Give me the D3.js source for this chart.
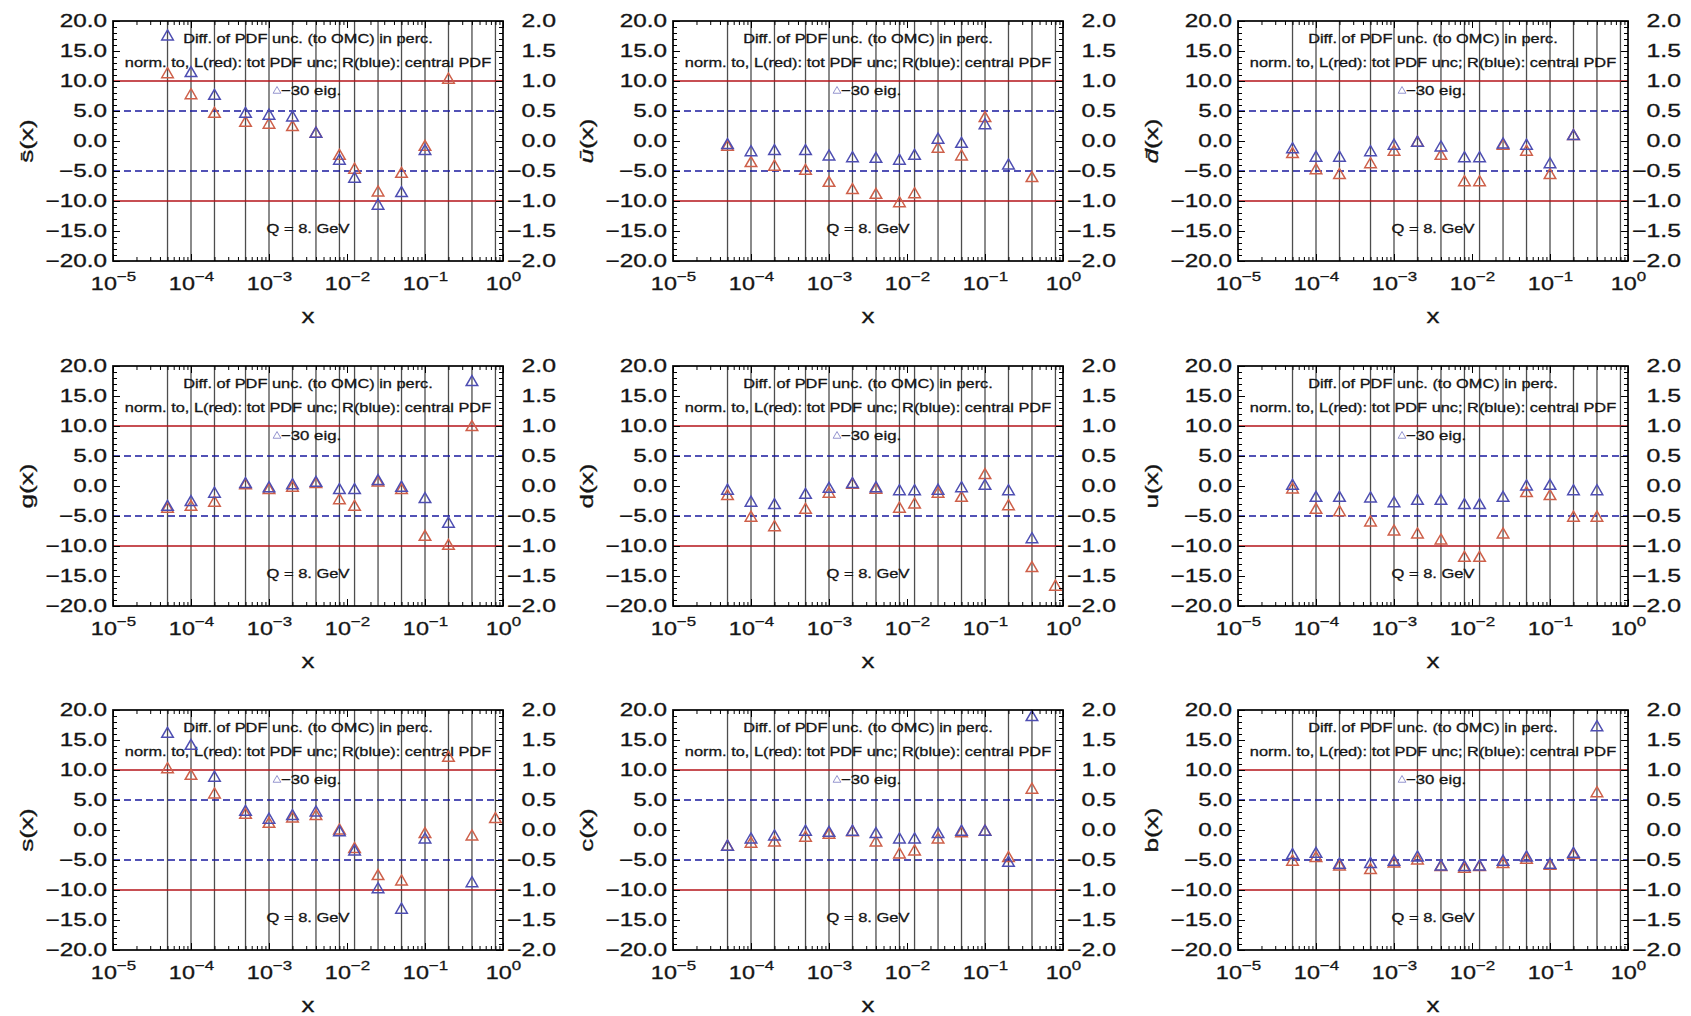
<!DOCTYPE html>
<html><head><meta charset="utf-8">
<script src="https://cdn.jsdelivr.net/npm/d3@7"></script>
<style>
body{margin:0;background:#fff}
svg{display:block}
text{font-family:"Liberation Sans",Arial,sans-serif;fill:#151515;stroke:#151515;stroke-width:0.3px}
</style>
</head><body>
<svg id="c" width="1691" height="1016"></svg>
<script>
// ---------- data ----------
const xValues = [5e-5, 1e-4, 2e-4, 5e-4, 1e-3, 2e-3, 4e-3, 8e-3, 0.0125, 0.025, 0.05, 0.1, 0.2, 0.4, 0.8];

const panelNames = ["sbar", "ubar", "dbar", "g", "d", "u", "s", "c", "b"];

// red: left axis (per cent, tot PDF unc); blue: right axis (central PDF)
const redSbar  = [11.1, 7.6, 4.5, 3.0, 2.7, 2.3, 1.2, -2.5, -4.8, -8.6, -5.5, -1.0, 10.2, null, null];
const blueSbar = [1.74, 1.13, 0.75, 0.45, 0.42, 0.39, 0.12, -0.33, -0.63, -1.08, -0.87, -0.17, null, null, null];

const redUbar  = [-1.0, -3.7, -4.3, -5.0, -7.0, -8.2, -9.0, -10.4, -8.9, -1.3, -2.6, 3.8, null, -6.2, null];
const blueUbar = [-0.07, -0.19, -0.17, -0.17, -0.26, -0.29, -0.30, -0.33, -0.25, 0.02, -0.05, 0.26, -0.41, null, null];

const redDbar  = [-2.2, -4.9, -5.7, -3.9, -1.8, -0.3, -2.5, -6.9, -6.9, -0.8, -1.8, -5.7, 0.8, null, null];
const blueDbar = [-0.14, -0.28, -0.28, -0.19, -0.08, -0.03, -0.11, -0.29, -0.29, -0.06, -0.08, -0.39, 0.08, null, null];

const redG  = [-3.8, -3.5, -2.8, 0.1, -0.7, -0.3, 0.3, -2.4, -3.5, 0.55, -0.7, -8.5, -10.0, 9.8, null];
const blueG = [-0.35, -0.27, -0.13, 0.03, -0.04, 0.01, 0.05, -0.07, -0.07, 0.08, -0.03, -0.22, -0.63, 1.73, null];

const redD  = [-1.7, -5.3, -6.9, -4.0, -1.3, 0.2, -0.65, -3.8, -3.1, -1.3, -2.0, 1.8, -3.4, -13.7, -16.8];
const blueD = [-0.08, -0.28, -0.32, -0.15, -0.05, 0.03, -0.04, -0.09, -0.09, -0.08, -0.04, 0.0, -0.09, -0.89, null];

const redU  = [-0.6, -4.0, -4.4, -6.1, -7.6, -8.1, -9.1, -12.0, -12.0, -8.1, -1.2, -1.7, -5.3, -5.3, null];
const blueU = [0.0, -0.20, -0.20, -0.21, -0.29, -0.25, -0.25, -0.32, -0.32, -0.20, -0.01, 0.0, -0.09, -0.09, null];

const redS  = [10.1, 9.0, 5.9, 2.5, 1.0, 1.9, 2.3, -0.1, -3.2, -7.7, -8.6, -0.7, 12.0, -1.1, 1.8];
const blueS = [1.60, 1.40, 0.87, 0.30, 0.17, 0.23, 0.29, -0.04, -0.36, -0.99, -1.33, -0.16, null, -0.89, null];

const redC  = [-2.8, -2.3, -2.1, -1.3, -0.8, -0.4, -2.1, -4.1, -3.6, -1.6, -0.55, -0.3, -4.7, 6.7, null];
const blueC = [-0.28, -0.16, -0.11, -0.03, -0.05, -0.03, -0.07, -0.16, -0.16, -0.07, -0.03, -0.03, -0.55, 1.88, null];

const redB  = [-5.3, -4.7, -6.1, -6.7, -5.6, -5.1, -6.2, -6.5, -6.2, -5.7, -5.0, -6.0, -4.2, 6.1, null];
const blueB = [-0.42, -0.40, -0.58, -0.57, -0.53, -0.46, -0.61, -0.62, -0.61, -0.53, -0.46, -0.58, -0.40, 1.71, null];

const redSeries  = [redSbar, redUbar, redDbar, redG, redD, redU, redS, redC, redB];
const blueSeries = [blueSbar, blueUbar, blueDbar, blueG, blueD, blueU, blueS, blueC, blueB];

// y-axis titles: [letter, italic?, barred?]
const yTitles = [["s", false, true], ["u", true, true], ["d", true, true],
                 ["g", false, false], ["d", false, false], ["u", false, false],
                 ["s", false, false], ["c", false, false], ["b", false, false]];

const leftTicks  = [20, 15, 10, 5, 0, -5, -10, -15, -20];
const rightTicks = [2, 1.5, 1, 0.5, 0, -0.5, -1, -1.5, -2];
const xTickExponents = [-5, -4, -3, -2, -1, 0];
const legendLine1 = "Diff. of PDF unc. (to OMC) in perc.";
const legendLine2 = "norm. to, L(red): tot PDF unc; R(blue): central PDF";
const legendEntry = "\u221230 eig.";
const scaleNote = "Q = 8. GeV";
const redRefLines = [10, -10];
const blueRefLines = [5, -5];
const xTitle = "x";

// ---------- layout ----------
const colLeft = [113, 673, 1238];
const rowTop = [21, 366, 710];
const W = 390, H = 240;

const fmtMinus = s => s.replace("-", "\u2212");

const svg = d3.select("#c");

const decades = xTickExponents.map(e => Math.pow(10, e));
const minorX = [];
xTickExponents.slice(0, -1).forEach(e => { for (let m = 2; m <= 9; m++) minorX.push(m * Math.pow(10, e)); });
const minorL = d3.range(-20, 21, 1).filter(v => v % 5 !== 0);
const minorR = d3.range(-20, 21, 1).filter(v => v % 5 !== 0).map(v => v / 10);

const triSym = d3.symbol().type(d3.symbolTriangle).size(58);
const legSym = d3.symbol().type(d3.symbolTriangle).size(26);

panelNames.forEach((name, i) => {
  const col = i % 3, row = Math.floor(i / 3);
  const g = svg.append("g").attr("transform", `translate(${colLeft[col]},${rowTop[row]})`);

  const x = d3.scaleLog().domain([1e-5, 1]).range([0, W]);
  const yL = d3.scaleLinear().domain([-20, 20]).range([H, 0]);
  const yR = d3.scaleLinear().domain([-2, 2]).range([H, 0]);

  // vertical grid lines at sample x
  g.append("g").selectAll("line").data(xValues).join("line")
    .attr("x1", d => x(d)).attr("x2", d => x(d))
    .attr("y1", 0).attr("y2", H)
    .attr("stroke", "#4d4d4d").attr("stroke-width", 1.3);

  // reference lines
  g.append("g").selectAll("line").data(redRefLines).join("line")
    .attr("x1", 0).attr("x2", W).attr("y1", d => yL(d)).attr("y2", d => yL(d))
    .attr("stroke", "#b5141a").attr("stroke-width", 1.7);
  g.append("g").selectAll("line").data(blueRefLines).join("line")
    .attr("x1", 0).attr("x2", W).attr("y1", d => yL(d)).attr("y2", d => yL(d))
    .attr("stroke", "#1a1a9e").attr("stroke-width", 1.7).attr("stroke-dasharray", "7,4");

  // legend texts
  const cx = W / 2;
  g.append("text").attr("transform", `translate(${cx},22) scale(1.26,1)`)
    .attr("text-anchor", "middle").attr("font-size", 13).text(legendLine1);
  g.append("text").attr("transform", `translate(${cx},46) scale(1.26,1)`)
    .attr("text-anchor", "middle").attr("font-size", 13).text(legendLine2);
  g.append("path").attr("d", legSym).attr("transform", `translate(${cx - 31},70)`)
    .attr("fill", "none").attr("stroke", "#9494cf").attr("stroke-width", 1);
  g.append("text").attr("transform", `translate(${cx - 27},74) scale(1.29,1)`)
    .attr("text-anchor", "start").attr("font-size", 13).text(legendEntry);
  g.append("text").attr("transform", `translate(${cx},212) scale(1.27,1)`)
    .attr("text-anchor", "middle").attr("font-size", 13).text(scaleNote);

  // markers
  const red = redSeries[i], blue = blueSeries[i];
  g.append("g").selectAll("path")
    .data(xValues.map((xv, j) => [xv, red[j]]).filter(d => d[1] !== null))
    .join("path").attr("d", triSym)
    .attr("transform", d => `translate(${x(d[0])},${yL(d[1])})`)
    .attr("fill", "none").attr("stroke", "rgb(206,96,74)").attr("stroke-width", 1.5);
  g.append("g").selectAll("path")
    .data(xValues.map((xv, j) => [xv, blue[j]]).filter(d => d[1] !== null))
    .join("path").attr("d", triSym)
    .attr("transform", d => `translate(${x(d[0])},${yR(d[1])})`)
    .attr("fill", "none").attr("stroke", "rgb(78,78,178)").attr("stroke-width", 1.5);

  // axes (ticks inward)
  const styleAxis = sel => { sel.select(".domain").remove(); sel.selectAll(".tick line").attr("stroke", "#000"); };

  // bottom
  const bx = g.append("g").attr("transform", `translate(0,${H})`)
    .call(d3.axisBottom(x).tickValues(decades).tickSize(-7).tickFormat(() => ""));
  styleAxis(bx);
  bx.selectAll(".tick text").each(function(d) {
    const t = d3.select(this);
    const e = Math.round(Math.log10(d));
    t.attr("y", null).attr("dy", null).attr("fill", "#151515")
      .attr("transform", "translate(0,29) scale(1.3,1)").attr("font-size", 18)
      .attr("font-family", "Liberation Sans, Arial, sans-serif");
    t.text("");
    t.append("tspan").text("10");
    t.append("tspan").attr("font-size", 13).attr("dy", -9).text(fmtMinus(String(e)));
  });
  styleAxis(g.append("g").attr("transform", `translate(0,${H})`)
    .call(d3.axisBottom(x).tickValues(minorX).tickSize(-4).tickFormat(() => "")));
  // top
  styleAxis(g.append("g").call(d3.axisTop(x).tickValues(decades).tickSize(-7).tickFormat(() => "")));
  styleAxis(g.append("g").call(d3.axisTop(x).tickValues(minorX).tickSize(-4).tickFormat(() => "")));

  // left
  const ly = g.append("g").call(d3.axisLeft(yL).tickValues(leftTicks).tickSize(-7)
    .tickFormat(d => fmtMinus(d3.format(".1f")(d))));
  styleAxis(ly);
  ly.selectAll(".tick text").attr("x", null).attr("fill", "#151515").attr("font-size", 18)
    .attr("font-family", "Liberation Sans, Arial, sans-serif")
    .attr("transform", "translate(-6,0) scale(1.35,1)");
  styleAxis(g.append("g").call(d3.axisLeft(yL).tickValues(minorL).tickSize(-4).tickFormat(() => "")));

  // right
  const ry = g.append("g").attr("transform", `translate(${W},0)`)
    .call(d3.axisRight(yR).tickValues(rightTicks).tickSize(-7)
      .tickFormat(d => fmtMinus(d3.format(".1f")(d))));
  styleAxis(ry);
  ry.selectAll(".tick text").attr("x", null).attr("fill", "#151515").attr("font-size", 18)
    .attr("text-anchor", "end").attr("font-family", "Liberation Sans, Arial, sans-serif")
    .attr("transform", "translate(53,0) scale(1.38,1)");
  styleAxis(g.append("g").attr("transform", `translate(${W},0)`)
    .call(d3.axisRight(yR).tickValues(minorR).tickSize(-4).tickFormat(() => "")));

  // frame
  g.append("rect").attr("x", 0).attr("y", 0).attr("width", W).attr("height", H)
    .attr("fill", "none").attr("stroke", "#000").attr("stroke-width", 1.7);

  // x title
  g.append("text").attr("transform", `translate(${cx},${H + 62}) scale(1.3,1)`)
    .attr("text-anchor", "middle").attr("font-size", 20).text(xTitle);

  // y title
  const [letter, ital, bar] = yTitles[i];
  const yt = g.append("text")
    .attr("transform", `translate(-80,${H / 2}) rotate(-90) scale(1.38,1)`)
    .attr("text-anchor", "middle").attr("font-size", 19);
  yt.append("tspan").attr("font-style", ital ? "italic" : "normal")
    .text(bar ? letter + "\u0304" : letter);
  yt.append("tspan").text("(x)");
});
</script>
</body></html>
